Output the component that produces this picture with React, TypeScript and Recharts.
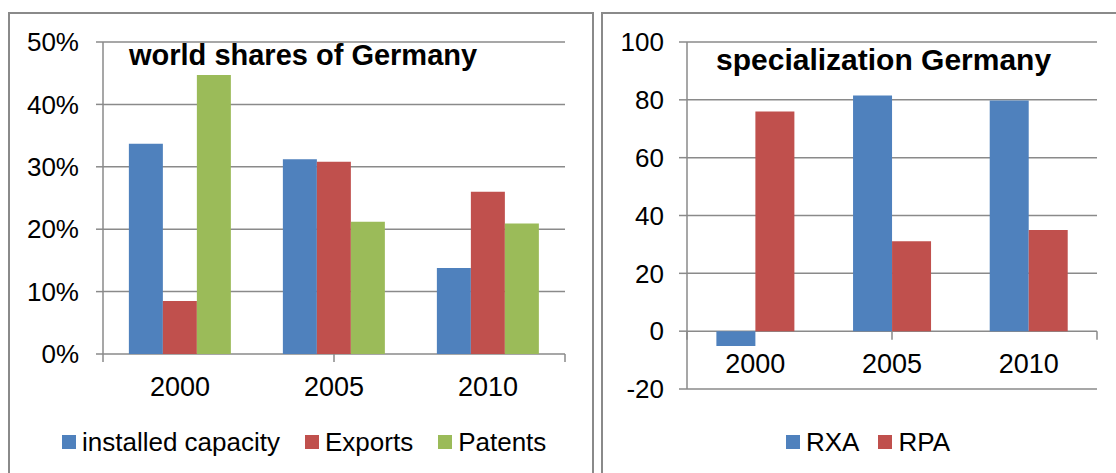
import React from "react";
import { BarChart, Bar, CartesianGrid, XAxis, YAxis, Legend, ReferenceLine } from "recharts";

// --- data ---
const years = ["2000", "2005", "2010"];

// world shares of Germany (fractions)
const installedCapacity = [0.337, 0.312, 0.138];
const exportsShare = [0.085, 0.308, 0.26];
const patents = [0.447, 0.212, 0.209];
const shareTicks = [0, 0.1, 0.2, 0.3, 0.4, 0.5];
const shareNames = ["installed capacity", "Exports", "Patents"];

// specialization Germany
const rxa = [-5.1, 81.5, 79.8];
const rpa = [76.0, 31.1, 35.0];
const specTicks = [-20, 0, 20, 40, 60, 80, 100];
const specNames = ["RXA", "RPA"];

// category boundaries for the Excel-style tick marks
const boundaries = [0, 1, 2, 3];

const sharesData = years.map((year, i) => ({
  year,
  capacity: installedCapacity[i],
  exports: exportsShare[i],
  patents: patents[i],
}));

const specData = years.map((year, i) => ({ year, rxa: rxa[i], rpa: rpa[i] }));

const FONT = "Arial, 'Liberation Sans', sans-serif";
const GRID = "#8a8a8a";
const BLUE = "#4F81BD";
const RED = "#C0504D";
const GREEN = "#9BBB59";

const pct = (v: number) => `${Math.round(v * 100)}%`;

function LegendRow({ payload, gap, order }: { payload?: any[]; gap: number; order: string[] }) {
  const items = [...(payload || [])].sort((a, b) => order.indexOf(a.value) - order.indexOf(b.value));
  return (
    <div style={{ display: "flex", alignItems: "center", height: 30, whiteSpace: "nowrap", fontFamily: FONT }}>
      {items.map((p, i) => (
        <div key={p.value} style={{ display: "flex", alignItems: "center", marginLeft: i ? gap : 0 }}>
          <span style={{ display: "inline-block", width: 14, height: 14, background: p.color, marginRight: 6 }} />
          <span style={{ fontSize: 26, color: "#000", lineHeight: "30px" }}>{p.value}</span>
        </div>
      ))}
    </div>
  );
}

const panel = (left: number, width: number): React.CSSProperties => ({
  position: "absolute",
  left,
  top: 12,
  width,
  height: 490,
  border: `2px solid ${GRID}`,
  boxSizing: "border-box",
});

const titleStyle: React.CSSProperties = {
  position: "absolute",
  fontFamily: FONT,
  fontWeight: "bold",
  lineHeight: 1,
  color: "#000",
  whiteSpace: "nowrap",
};

const xTick = { fill: "#000", fontSize: 27, fontFamily: FONT };
const yTick = { fill: "#000", fontSize: 26, fontFamily: FONT };

export default function App() {
  return (
    <div style={{ position: "absolute", left: 0, top: 0, width: 1116, height: 473, background: "#fff", overflow: "hidden", fontFamily: FONT }}>
      <div style={panel(8, 586)} />
      <div style={panel(601, 530)} />

      <div style={{ position: "absolute", left: 0, top: 0 }}>
        <BarChart
          width={593}
          height={473}
          data={sharesData}
          margin={{ top: 42, right: 28, bottom: 89, left: 23 }}
          barCategoryGap="16.8%"
          barGap={0}
        >
          <CartesianGrid vertical={false} stroke={GRID} strokeWidth={1.5} />
          <XAxis dataKey="year" tickLine={false} axisLine={false} tickSize={0} tickMargin={23} tick={xTick} />
          <XAxis xAxisId="num" type="number" domain={[0, 3]} hide />
          <YAxis
            width={80}
            domain={[0, 0.5]}
            ticks={shareTicks}
            tickFormatter={pct}
            stroke={GRID}
            strokeWidth={1.5}
            tickSize={7}
            tickMargin={17}
            tick={yTick}
          />
          {boundaries.map((b) => (
            <ReferenceLine
              key={b}
              xAxisId="num"
              segment={[{ x: b, y: 0 }, { x: b, y: -0.013 }]}
              stroke={GRID}
              strokeWidth={1.5}
              ifOverflow="visible"
            />
          ))}
          <Bar dataKey="capacity" name="installed capacity" fill={BLUE} isAnimationActive={false} />
          <Bar dataKey="exports" name="Exports" fill={RED} isAnimationActive={false} />
          <Bar dataKey="patents" name="Patents" fill={GREEN} isAnimationActive={false} />
          <Legend
            verticalAlign="middle"
            align="center"
            wrapperStyle={{ left: 62, top: 427, width: 520, height: 30 }}
            content={(props: any) => <LegendRow payload={props.payload} gap={25} order={shareNames} />}
          />
        </BarChart>
      </div>
      <div style={{ ...titleStyle, fontSize: 29, left: 129, top: 41 }}>world shares of Germany</div>

      <div style={{ position: "absolute", left: 602, top: 0 }}>
        <BarChart
          width={514}
          height={473}
          data={specData}
          margin={{ top: 42, right: 19, bottom: 54, left: 25 }}
          barCategoryGap="21.5%"
          barGap={0}
        >
          <CartesianGrid vertical={false} stroke={GRID} strokeWidth={1.5} />
          <XAxis dataKey="year" tickLine={false} axisLine={false} tickSize={0} tickMargin={-35} tick={xTick} />
          <XAxis xAxisId="num" type="number" domain={[0, 3]} hide />
          <YAxis
            width={60}
            domain={[-20, 100]}
            ticks={specTicks}
            stroke={GRID}
            strokeWidth={1.5}
            tickSize={8}
            tickMargin={15}
            tick={yTick}
          />
          {boundaries.map((b) => (
            <ReferenceLine
              key={b}
              xAxisId="num"
              segment={[{ x: b, y: 0 }, { x: b, y: -3 }]}
              stroke={GRID}
              strokeWidth={1.5}
              ifOverflow="visible"
            />
          ))}
          <Bar dataKey="rxa" name="RXA" fill={BLUE} isAnimationActive={false} />
          <Bar dataKey="rpa" name="RPA" fill={RED} isAnimationActive={false} />
          <Legend
            verticalAlign="middle"
            align="center"
            wrapperStyle={{ left: 184, top: 427, width: 300, height: 30 }}
            content={(props: any) => <LegendRow payload={props.payload} gap={19} order={specNames} />}
          />
        </BarChart>
      </div>
      <div style={{ ...titleStyle, fontSize: 30, left: 716, top: 45 }}>specialization Germany</div>
    </div>
  );
}
